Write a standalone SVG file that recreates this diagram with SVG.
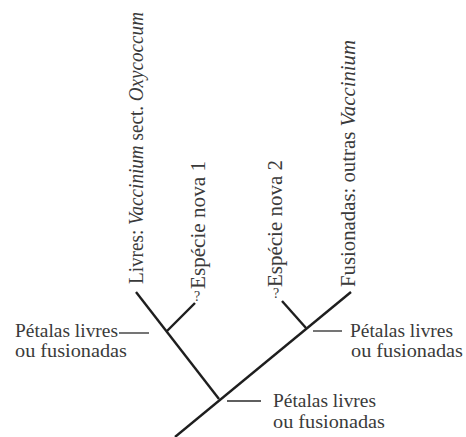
<svg xmlns="http://www.w3.org/2000/svg" width="466" height="437" viewBox="0 0 466 437">
  <style>
    .branch { stroke: #1e1e1e; stroke-width: 2.4; stroke-linecap: butt; fill: none; }
    .lead { stroke: #2a2a2a; stroke-width: 1.3; fill: none; }
    .lbl { font-size: 19.5px; }
    .taxon { font-size: 20px; }
    .q { font-size: 14px; }
  </style>
  <rect width="466" height="437" fill="#ffffff"/>

  <!-- tree branches and leader lines -->
  <g id="connectors">
    <line class="branch" x1="175" y1="437" x2="351" y2="292"/>
    <line class="branch" x1="219" y1="399" x2="136" y2="292"/>
    <line class="branch" x1="167" y1="331" x2="195" y2="303"/>
    <line class="branch" x1="306" y1="328" x2="282" y2="301"/>
    <line class="lead" x1="119" y1="333" x2="149" y2="333"/>
    <line class="lead" x1="313" y1="331" x2="342" y2="331"/>
    <line class="lead" x1="227" y1="401" x2="261" y2="401"/>
  </g>

  <g font-family="'Liberation Serif', 'DejaVu Serif', serif" fill="#3a3a3a">
    <!-- terminal taxa -->
    <g id="taxon-oxycoccum">
      <text class="taxon" transform="translate(143,284) rotate(-90)" textLength="272" lengthAdjust="spacingAndGlyphs">Livres: <tspan font-style="italic">Vaccinium</tspan> sect. <tspan font-style="italic">Oxycoccum</tspan></text>
    </g>
    <g id="taxon-nova1">
      <text class="taxon" transform="translate(205,289) rotate(-90)" textLength="128" lengthAdjust="spacingAndGlyphs">Espécie nova 1</text>
      <text class="q" x="194" y="301">?</text>
    </g>
    <g id="taxon-nova2">
      <text class="taxon" transform="translate(282,287) rotate(-90)" textLength="127" lengthAdjust="spacingAndGlyphs">Espécie nova 2</text>
      <text class="q" x="273" y="298">?</text>
    </g>
    <g id="taxon-vaccinium">
      <text class="taxon" transform="translate(355,287) rotate(-90)" textLength="247" lengthAdjust="spacingAndGlyphs">Fusionadas: outras <tspan font-style="italic">Vaccinium</tspan></text>
    </g>

    <!-- character states at internal nodes -->
    <g id="node-left">
      <text class="lbl" x="15" y="337" textLength="103" lengthAdjust="spacingAndGlyphs">Pétalas livres</text>
      <text class="lbl" x="15" y="357" textLength="112" lengthAdjust="spacingAndGlyphs">ou fusionadas</text>
    </g>
    <g id="node-right">
      <text class="lbl" x="350" y="337" textLength="103" lengthAdjust="spacingAndGlyphs">Pétalas livres</text>
      <text class="lbl" x="351" y="357" textLength="112" lengthAdjust="spacingAndGlyphs">ou fusionadas</text>
    </g>
    <g id="node-root">
      <text class="lbl" x="273" y="407" textLength="103" lengthAdjust="spacingAndGlyphs">Pétalas livres</text>
      <text class="lbl" x="273" y="428" textLength="112" lengthAdjust="spacingAndGlyphs">ou fusionadas</text>
    </g>
  </g>
</svg>
